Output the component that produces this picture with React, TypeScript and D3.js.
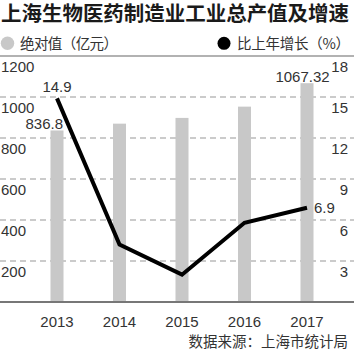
import React from "react";
import * as d3 from "d3";

const years = ["2013", "2014", "2015", "2016", "2017"];
const outputValues = [836.8, 870, 898, 953, 1067.32];
const growthRates = [14.9, 4.2, 2.0, 5.8, 6.9];
const leftTicks = [200, 400, 600, 800, 1000, 1200];
const rightTicks = [3, 6, 9, 12, 15, 18];
const title = "上海生物医药制造业工业总产值及增速";
const legendBar = "绝对值（亿元）";
const legendLine = "比上年增长（%）";
const source = "数据来源：上海市统计局";

const W = 354;
const H = 351;
const NUM_FONT = "'Liberation Sans', Arial, sans-serif";
const CJK_FONT = "'Noto Sans CJK SC', sans-serif";

export default function App() {
  const x = d3.scalePoint<string>().domain(years).range([57, 307]);
  const yL = d3.scaleLinear().domain([0, 1200]).range([302, 56]);
  const yR = d3.scaleLinear().domain([0, 18]).range([302, 56]);
  const barW = 13;

  const line = d3
    .line<number>()
    .x((_, i) => x(years[i]) as number)
    .y((d) => yR(d));

  return (
    <svg
      width={W}
      height={H}
      style={{ position: "absolute", left: 0, top: 0, background: "#fff" }}
    >
      <text
        x={1}
        y={20.5}
        fontFamily={CJK_FONT}
        fontWeight={700}
        fontSize={20}
        fill="#1a1a1a"
        textLength={348}
        lengthAdjust="spacingAndGlyphs"
      >
        {title}
      </text>
      {/* legend */}
      <circle cx={7.5} cy={43.3} r={6.7} fill="#c8c8c8" />
      <text
        x={20}
        y={48.5}
        fontFamily={CJK_FONT}
        fontSize={14.5}
        fill="#333"
        textLength={98}
        lengthAdjust="spacing"
      >
        {legendBar}
      </text>
      <circle cx={224} cy={43.3} r={6.5} fill="#000" />
      <text
        x={237}
        y={48.5}
        fontFamily={CJK_FONT}
        fontSize={14.5}
        fill="#333"
        textLength={113}
        lengthAdjust="spacing"
      >
        {legendLine}
      </text>

      {/* gridlines */}
      {leftTicks.map((t) =>
        t === 1200 ? (
          <line key={t} x1={0} x2={W} y1={yL(t)} y2={yL(t)} stroke="#999" strokeWidth={1.5} />
        ) : (
          <line
            key={t}
            x1={0}
            x2={W}
            y1={yL(t)}
            y2={yL(t)}
            stroke="#bbb"
            strokeWidth={1.3}
            strokeDasharray="6 4"
          />
        )
      )}

      {/* bars */}
      {outputValues.map((v, i) => (
        <rect
          key={years[i]}
          x={(x(years[i]) as number) - barW / 2}
          y={yL(v)}
          width={barW}
          height={yL(0) - yL(v)}
          fill="#c8c8c8"
        />
      ))}

      {/* baseline */}
      <line x1={0} x2={W} y1={yL(0)} y2={yL(0)} stroke="#777" strokeWidth={2} />

      {/* line */}
      <path d={line(growthRates) || ""} fill="none" stroke="#000" strokeWidth={4} />

      {/* left axis labels */}
      {leftTicks.map((t) => (
        <text key={t} x={1} y={yL(t) + 16} fontFamily={NUM_FONT} fontSize={15} fill="#333">
          {t}
        </text>
      ))}
      {/* right axis labels */}
      {rightTicks.map((t) => (
        <text
          key={t}
          x={348}
          y={yR(t) + 16}
          textAnchor="end"
          fontFamily={NUM_FONT}
          fontSize={15}
          fill="#333"
        >
          {t}
        </text>
      ))}

      {/* x labels */}
      {years.map((yv) => (
        <text
          key={yv}
          x={x(yv) as number}
          y={327}
          textAnchor="middle"
          fontFamily={NUM_FONT}
          fontSize={15}
          fill="#333"
        >
          {yv}
        </text>
      ))}

      {/* data labels */}
      <text
        x={(x(years[0]) as number) + 6}
        y={yL(outputValues[0]) - 1}
        textAnchor="end"
        fontFamily={NUM_FONT}
        fontSize={15}
        fill="#333"
      >
        {outputValues[0]}
      </text>
      <text
        x={(x(years[4]) as number) - 4.5}
        y={yL(outputValues[4]) - 1.5}
        textAnchor="middle"
        fontFamily={NUM_FONT}
        fontSize={15}
        fill="#333"
      >
        {outputValues[4]}
      </text>
      <text
        x={x(years[0]) as number}
        y={yR(growthRates[0]) - 6}
        textAnchor="middle"
        fontFamily={NUM_FONT}
        fontSize={15}
        fill="#333"
      >
        {growthRates[0]}
      </text>
      <text
        x={(x(years[4]) as number) + 7}
        y={yR(growthRates[4]) + 5.5}
        fontFamily={NUM_FONT}
        fontSize={15}
        fill="#333"
      >
        {growthRates[4]}
      </text>

      {/* source */}
      <text
        x={348}
        y={347}
        textAnchor="end"
        fontFamily={CJK_FONT}
        fontSize={14.5}
        fill="#333"
      >
        {source}
      </text>
    </svg>
  );
}
